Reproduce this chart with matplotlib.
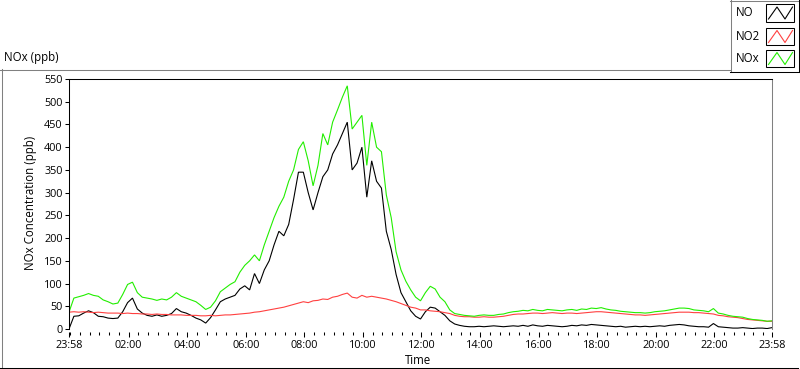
import numpy as np
import pandas as pd
import matplotlib
matplotlib.use("Agg")
import matplotlib.pyplot as plt
import matplotlib.dates as mdates
from matplotlib.lines import Line2D
from matplotlib.patches import Rectangle

# ---------------- data (10-minute samples starting 23:58) ----------------
start_time = "2000-01-01 23:58"
step_minutes = 10

no = [0, 28, 29, 35, 40, 36, 28, 27, 24, 23,
      24, 38, 58, 68, 44, 35, 30, 28, 31, 28,
      30, 34, 45, 38, 35, 30, 24, 20, 13, 25,
      42, 60, 66, 70, 74, 88, 95, 86, 122, 100,
      130, 150, 185, 215, 205, 230, 285, 345, 345, 300,
      262, 300, 335, 350, 385, 405, 430, 455, 350, 365,
      400, 290, 370, 325, 310, 215, 175, 120, 80, 60,
      40, 28, 22, 38, 48, 46, 38, 30, 18, 11,
      8, 6, 5, 5, 6, 5, 6, 7, 6, 5,
      6, 7, 6, 8, 6, 9, 7, 6, 8, 7,
      6, 5, 6, 8, 7, 9, 8, 10, 9, 8,
      7, 6, 5, 6, 4, 5, 6, 5, 6, 5,
      6, 7, 6, 8, 9, 10, 9, 7, 6, 5,
      5, 4, 12, 5, 4, 3, 2, 2, 3, 2,
      1, 2, 2, 1, 3]

no2 = [37, 38, 37, 38, 37, 36, 37, 36, 35, 35,
       35, 34, 35, 34, 34, 33, 33, 32, 33, 32,
       32, 31, 31, 31, 30, 30, 30, 29, 29, 30,
       29, 30, 31, 31, 32, 33, 34, 35, 37, 38,
       40, 42, 44, 46, 48, 51, 54, 57, 60, 58,
       62, 63, 66, 65, 70, 72, 76, 79, 70, 68,
       74, 70, 72, 70, 68, 66, 63, 60, 56, 52,
       48, 46, 42, 42, 40, 39, 38, 36, 34, 30,
       28, 27, 27, 26, 26, 27, 26, 26, 27, 28,
       30, 32, 33, 33, 34, 35, 35, 34, 35, 36,
       35, 34, 35, 35, 34, 35, 36, 37, 38, 38,
       37, 36, 35, 34, 33, 32, 31, 31, 30, 31,
       32, 33, 34, 35, 36, 37, 37, 37, 36, 36,
       35, 34, 33, 30, 29, 27, 26, 25, 23, 21,
       20, 19, 18, 17, 17]

nox = [37, 68, 71, 74, 78, 74, 72, 64, 60, 55,
       57, 76, 98, 103, 80, 70, 68, 66, 63, 66,
       64, 70, 80, 72, 68, 64, 60, 52, 43, 48,
       62, 82, 90, 98, 104, 125, 140, 150, 163, 150,
       185, 215, 245, 270, 290, 325, 350, 395, 412, 370,
       315, 360, 430, 405, 455, 482, 510, 535, 440, 455,
       470, 360, 455, 400, 390, 295, 245, 170, 130, 105,
       86, 70, 62, 80, 94, 88, 70, 60, 42, 34,
       32, 30, 29, 28, 30, 31, 30, 30, 32, 33,
       36, 38, 39, 41, 40, 43, 41, 40, 43, 42,
       41, 40, 42, 43, 41, 44, 43, 46, 45, 47,
       44, 42, 41, 39, 38, 37, 36, 36, 35, 36,
       38, 39, 40, 42, 44, 46, 46, 45, 42, 41,
       40, 38, 45, 35, 33, 30, 28, 27, 26, 23,
       21, 20, 19, 17, 18]

series_names = ["NO", "NO2", "NOx"]
series_colors = ["#000000", "#ff4040", "#22ee00"]

xtick_labels = ["23:58", "02:00", "04:00", "06:00", "08:00", "10:00", "12:00",
                "14:00", "16:00", "18:00", "20:00", "22:00", "23:58"]
ytick_values = list(range(0, 551, 50))

# ---------------- figure ----------------
W, H = 800, 369
plt.rcParams['font.family'] = ['Open Sans', 'DejaVu Sans']
FS = 7.8
FS_LABEL = 8.3

def fx(px):
    return px / W

def fy(py):
    return 1 - py / H

fig = plt.figure(figsize=(W / 100, H / 100), dpi=100)
fig.patch.set_facecolor("white")

ax = fig.add_axes([fx(69), fy(329), fx(772) - fx(69), fy(79) - fy(329)])

t0 = pd.Timestamp(start_time)
times = t0 + pd.to_timedelta(np.arange(len(no)) * step_minutes, unit="min")

for vals, c in zip([no, no2, nox], series_colors):
    ax.plot(times, vals, color=c, lw=0.8, solid_joinstyle="miter")

t_end = t0 + pd.Timedelta(days=1)
ax.set_xlim(t0, t_end)
ax.set_ylim(0, 550)

# x ticks from labels
xt = []
for i, lab in enumerate(xtick_labels):
    if i == 0:
        xt.append(t0)
    else:
        xt.append(pd.Timestamp("2000-01-02 " + lab))
ax.set_xticks(xt)
ax.set_xticklabels(xtick_labels)
ax.xaxis.set_minor_locator(mdates.MinuteLocator(byminute=[0, 20, 40]))

ax.set_yticks(ytick_values)
ax.set_yticklabels([str(v) for v in ytick_values])

for s in ["left", "top"]:
    ax.spines[s].set_color("black")
    ax.spines[s].set_linewidth(0.75)
ax.spines["right"].set_color("#808080")
ax.spines["right"].set_linewidth(0.75)
ax.spines["bottom"].set_position(("outward", 2.2))
ax.spines["bottom"].set_visible(False)

ax.tick_params(axis="y", which="major", direction="out", length=3, width=0.75,
               pad=1.5, labelsize=FS, colors="black")
ax.tick_params(axis="x", which="major", direction="out", length=3.5, width=0.75,
               pad=2.5, labelsize=FS, colors="black")
ax.tick_params(axis="x", which="minor", direction="out", length=2.5, width=0.75)

# texts
fig.text(fx(4), fy(58), "NOx (ppb)", ha="left", va="center", fontsize=FS_LABEL)
fig.text(fx(31), fy(203), "NOx Concentration (ppb)", rotation=90,
         ha="center", va="center", fontsize=FS_LABEL)
fig.text(fx(418), fy(361), "Time", ha="center", va="center", fontsize=FS_LABEL)

# outer frame
def hline(x0, x1, y, color):
    fig.add_artist(Line2D([fx(x0), fx(x1)], [fy(y), fy(y)], color=color, lw=0.75))

def vline(x, y0, y1, color):
    fig.add_artist(Line2D([fx(x), fx(x)], [fy(y0), fy(y1)], color=color, lw=0.75))

hline(0, 730, 69.5, "#808080")
vline(1.5, 69, 367, "#808080")
hline(0, 798, 367.5, "black")

# legend box
vline(730.5, 0, 72, "#808080")
hline(730, 799, 0.5, "#808080")
vline(799, 0, 72, "black")
hline(730, 799, 71.5, "black")

centers = [13, 36.5, 58.5]
for name, c, yc in zip(series_names, series_colors, centers):
    fig.text(fx(736), fy(yc), name, ha="left", va="center", fontsize=FS_LABEL)
    fig.add_artist(Rectangle((fx(766), fy(yc + 8.5)), fx(794) - fx(766),
                             fy(yc - 8.5) - fy(yc + 8.5), fill=False,
                             edgecolor="black", lw=0.75))
    zx = [768.5, 777, 785, 792.5]
    zy = [yc + 6, yc - 6, yc + 6, yc - 6]
    fig.add_artist(Line2D([fx(v) for v in zx], [fy(v) for v in zy], color=c, lw=0.8))

fig.savefig("out.png", dpi=100, facecolor="white")
